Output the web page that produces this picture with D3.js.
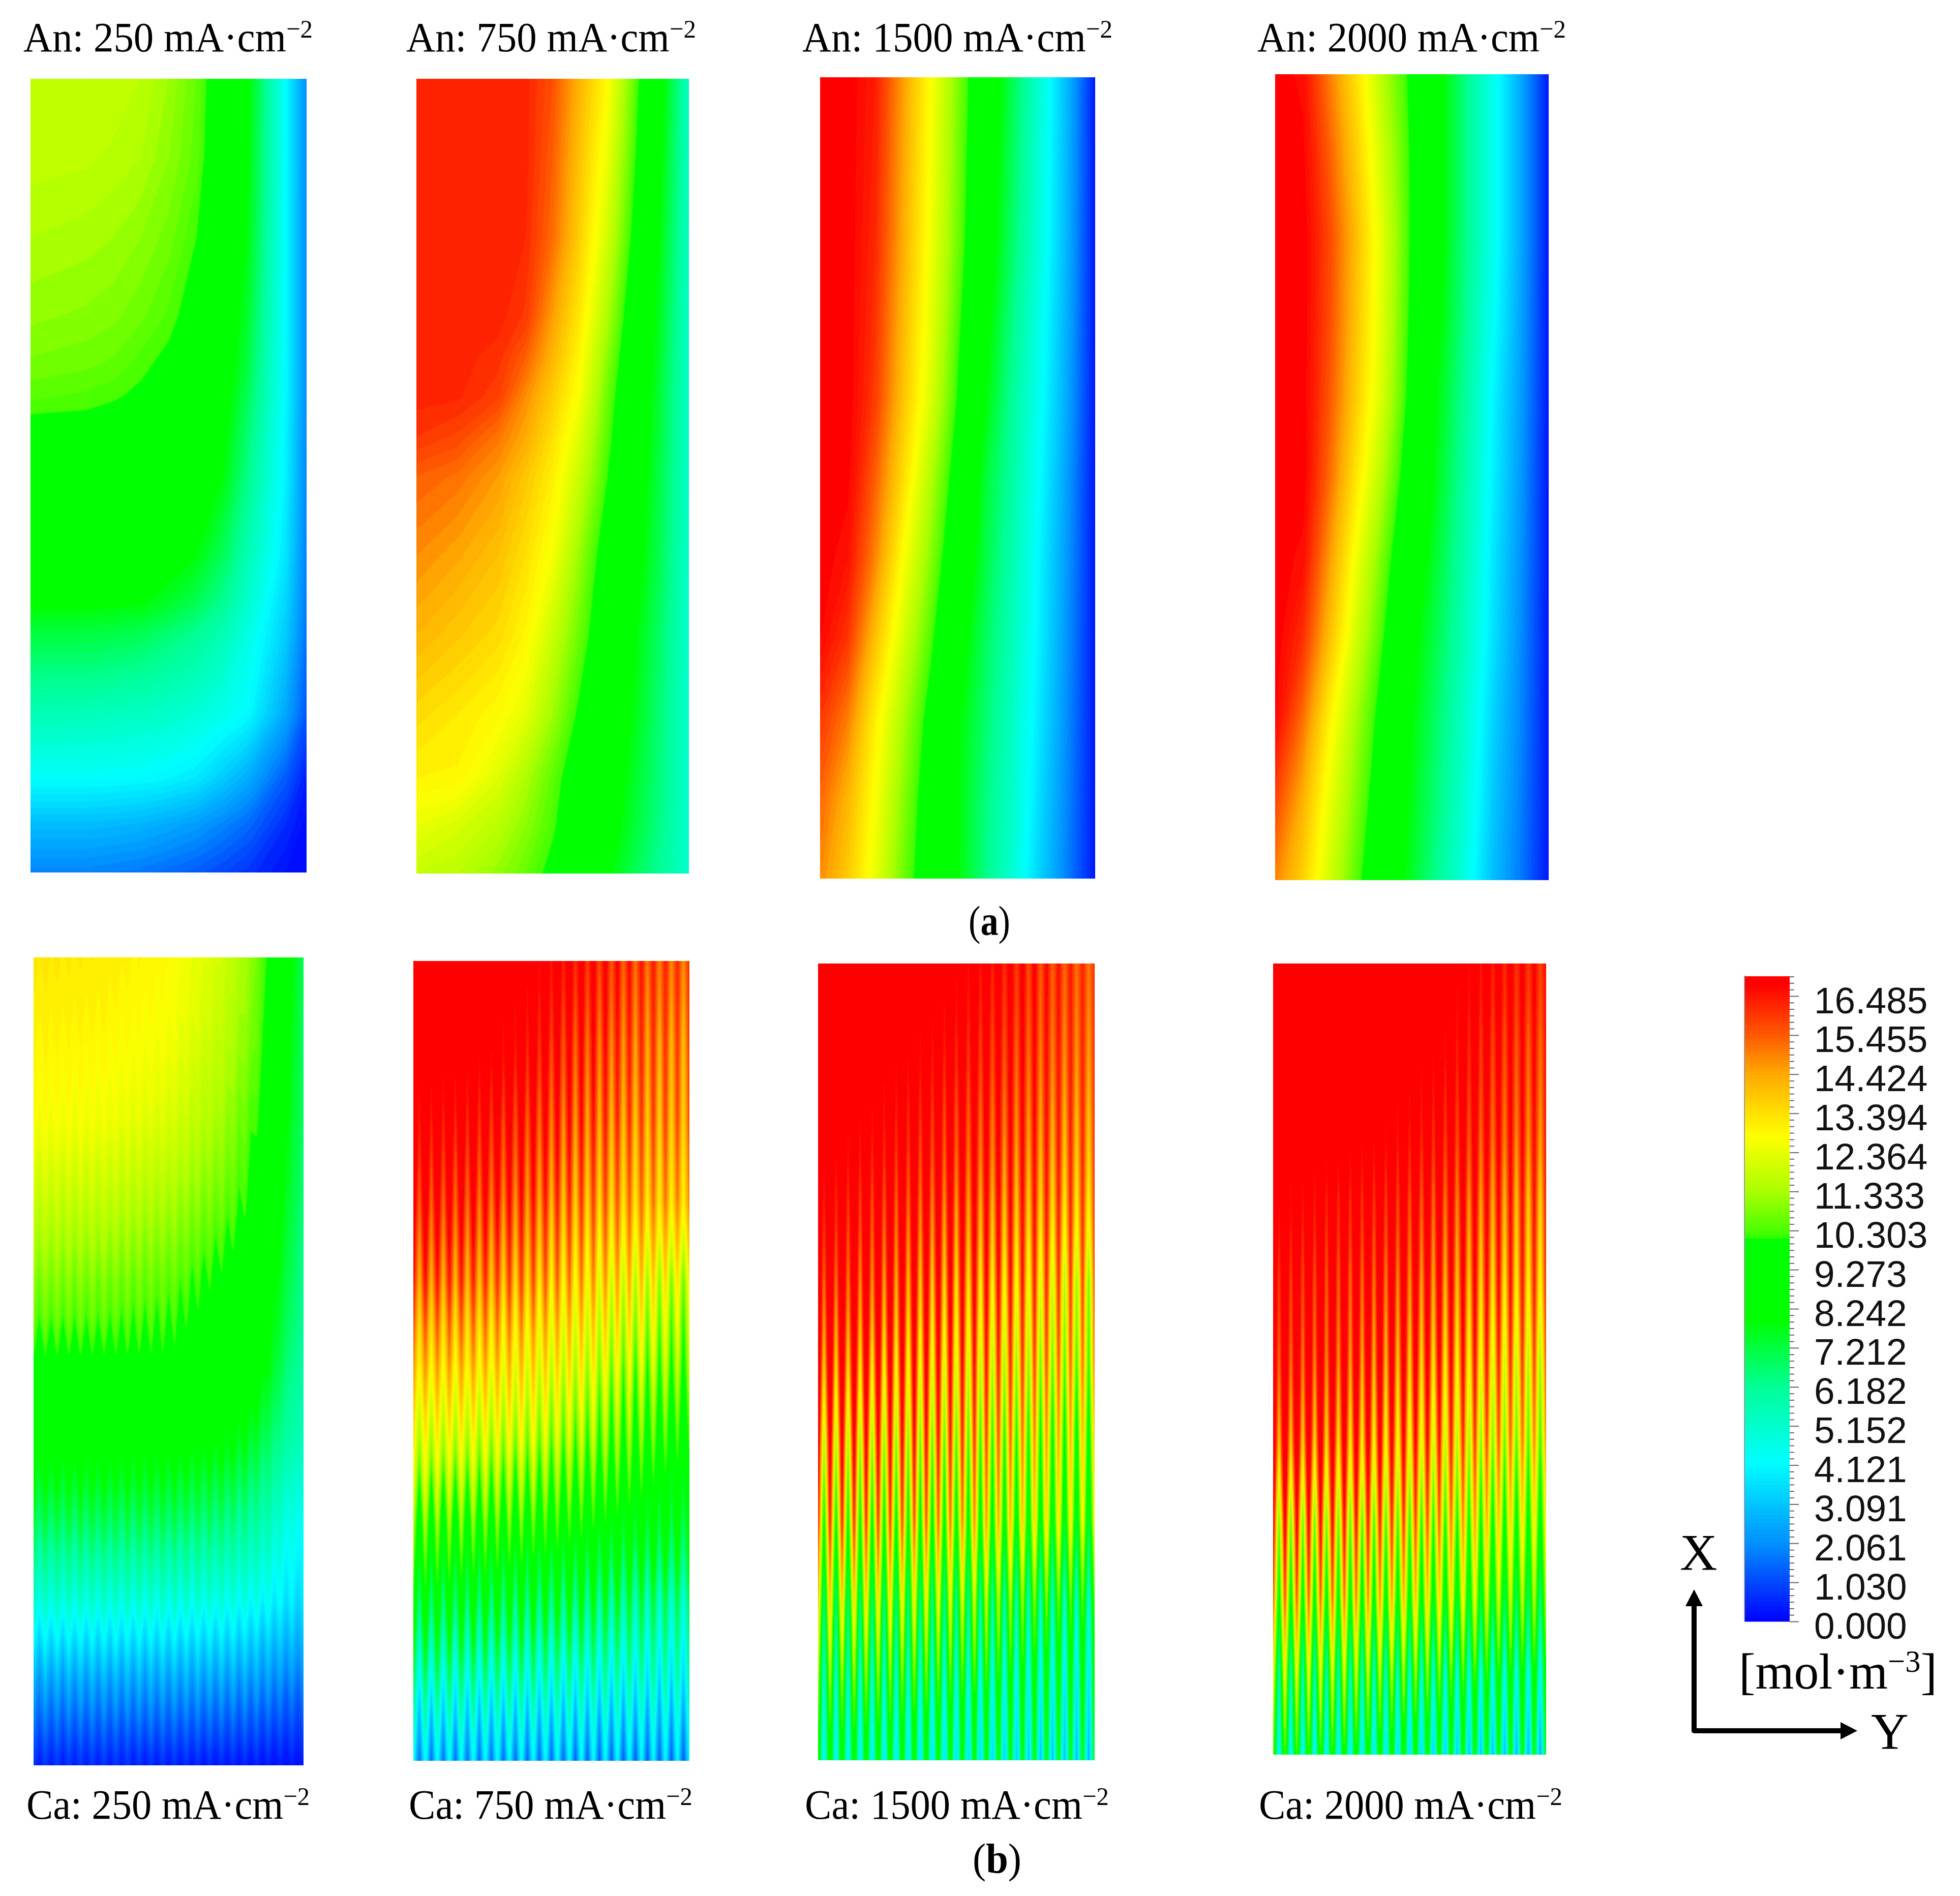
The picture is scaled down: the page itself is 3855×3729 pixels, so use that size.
<!DOCTYPE html>
<html><head><meta charset="utf-8">
<style>html,body{margin:0;padding:0;background:#fff}svg{display:block}</style>
<script src="https://cdn.jsdelivr.net/npm/d3@7/dist/d3.min.js"></script>
</head><body><svg id="c" width="3855" height="3729" xmlns="http://www.w3.org/2000/svg"></svg>
<script>
// ---------- values (mol/m3), rows top to bottom ----------
const tickLabels = ["16.485","15.455","14.424","13.394","12.364","11.333","10.303","9.273","8.242","7.212","6.182","5.152","4.121","3.091","2.061","1.030","0.000"];
const colourValues = [0,2.06,4.2,6.18,7.95,10.1,10.16,11.33,12.78,13.39,14.42,15.45,16.8,17];
const colourStops = ["#0000ff","#0090ff","#00ffff","#00ff96","#00ff00","#00ff00","#3cff00","#aaff00","#ffff00","#ffe100","#ffaa00","#ff5a00","#ff0000","#ff0000"];

const an250Rows = [0,.1,.2,.3,.36,.4,.44,.5,.6,.66,.7,.8,.88,.94,1];
const an250Cols = [0,.2,.3,.4,.5,.6,.7,.79,.925,1];
const an250 = [
[11.8,11.8,11.75,11.6,11.2,10.6,9.5,7.95,4.2,2.0],
[11.7,11.65,11.55,11.4,11.0,10.5,9.4,7.85,4.2,2.0],
[11.4,11.3,11.2,11.0,10.7,10.2,9.1,7.7,4.15,2.0],
[11.05,10.95,10.85,10.65,10.35,9.9,8.7,7.35,4.15,2.0],
[10.75,10.65,10.55,10.3,10.05,9.5,8.5,7.1,4.1,2.0],
[10.45,10.35,10.25,10.1,9.7,9.2,8.3,6.85,4.1,2.0],
[10.0,10.0,9.9,9.75,9.4,8.95,8.1,6.6,4.0,1.95],
[9.3,9.3,9.25,9.15,8.9,8.5,7.8,6.3,3.95,1.9],
[8.6,8.6,8.55,8.5,8.25,7.85,6.9,5.6,3.7,1.8],
[8.0,8.0,7.95,7.9,7.5,7.0,6.2,5.1,3.4,1.7],
[7.2,7.2,7.1,6.95,6.6,6.2,5.6,4.7,3.2,1.6],
[5.6,5.55,5.45,5.35,5.2,4.95,4.55,4.15,2.5,1.2],
[4.3,4.3,4.25,4.2,4.05,3.8,3.2,2.6,1.3,.4],
[2.9,2.9,2.85,2.75,2.55,2.3,1.9,1.5,.6,.1],
[1.9,1.9,1.8,1.7,1.5,1.3,1.0,.7,.2,0]];
const an750Rows = [0,.1,.2,.3,.35,.4,.45,.5,.6,.7,.8,.88,.94,1];
const an750Cols = [0,.15,.3,.4,.5,.6,.7,.8,.9,1];
const an750 = [
[16.3,16.3,16.3,16.3,15.6,14.2,12.85,10.57,8.17,5.3],
[16.3,16.3,16.3,16.3,15.4,13.95,12.45,10.25,7.9,5.3],
[16.3,16.3,16.3,16.2,15.2,13.7,12.0,9.88,7.65,5.3],
[16.3,16.3,16.3,15.95,14.55,13.2,11.4,9.35,7.41,5.25],
[16.3,16.3,16.1,15.4,14.2,12.9,11.0,9.15,7.3,5.2],
[16.3,16.25,15.85,14.8,13.75,12.6,10.67,8.96,7.17,5.2],
[16.0,15.75,15.1,14.4,13.4,12.2,10.45,8.8,7.1,5.2],
[15.4,15.15,14.6,13.9,13.1,11.8,10.2,8.66,7.0,5.2],
[14.8,14.45,14.0,13.4,12.6,11.1,9.6,8.35,6.9,5.15],
[14.2,13.85,13.5,12.95,11.85,10.6,9.3,7.95,6.65,5.1],
[13.5,13.2,12.85,12.3,11.2,10.0,8.85,7.75,6.5,5.1],
[13.0,12.95,12.2,11.4,10.5,9.55,8.55,7.5,6.4,5.1],
[12.4,12.1,11.6,11.0,10.3,9.3,8.35,7.35,6.3,5.1],
[11.8,11.6,11.1,10.6,9.95,9.0,8.0,7.0,6.1,5.1]];
const anWideCols = [0,.1,.2,.3,.4,.5,.6,.7,.8,.9,1];
const an1500Rows = [0,.2,.4,.5,.6,.7,.8,.9,1];
const an1500 = [
[17,17,16.4,14.6,12.78,10.9,9.0,7.0,5.0,2.8,.3],
[17,17,16.2,14.4,12.6,10.7,8.7,6.7,4.8,2.7,.3],
[17,17,15.9,14.0,12.2,10.1,7.95,6.1,4.4,2.5,.3],
[17,16.9,15.4,13.5,11.5,9.6,7.4,5.9,4.2,2.3,.3],
[17,16.6,14.9,12.78,11.0,9.1,7.2,5.7,4.0,2.2,.3],
[16.8,16.0,14.0,12.1,10.4,8.5,6.9,5.5,3.9,2.1,.3],
[16.0,15.0,13.1,11.4,9.8,8.0,6.7,5.3,3.7,2,.3],
[15.3,14.2,12.7,11.0,9.5,7.9,6.5,5.2,3.5,1.9,.3],
[14.8,13.8,12.4,10.7,9.4,7.9,6.4,5.0,3.3,1.8,.3]];
const an2000Rows = [0,.1,.2,.3,.4,.5,.6,.7,.8,.9,1];
const an2000 = [
[17,16.7,15.0,13.3,11.4,9.9,8.2,6.3,4.5,2.5,.3],
[17,16.9,15.4,13.7,11.8,10,8.2,6.3,4.5,2.5,.3],
[17,17,15.7,14,12.1,10.0,8.2,6.3,4.5,2.5,.3],
[17,17,15.65,13.9,12.05,9.9,8.0,6.2,4.3,2.4,.3],
[17,17,15.5,13.7,11.9,9.7,7.7,6.0,4.0,2.3,.3],
[17,17,15.2,13.2,11.3,9.3,7.5,5.8,3.9,2.2,.3],
[17,16.7,14.6,12.5,10.6,8.8,7.2,5.6,3.7,2.1,.3],
[17,16.1,14.0,11.9,10.1,8.2,6.9,5.4,3.6,2,.3],
[16.8,15.2,13.0,11.2,9.6,7.9,6.6,5.1,3.3,1.9,.3],
[15.8,14.3,12.4,10.8,9.3,7.7,6.4,4.9,3.1,1.8,.3],
[14.9,13.7,12.0,10.4,8.9,7.5,6.1,4.6,2.9,1.7,.3]];

const caChannelPeriods = 23;
const ca250Cols = [0,.25,.5,.7,.8,.87,.95,1];
const ca250Rows = [0,.1,.2,.3,.4,.45,.5,.6,.7,.8,.9,1];
const ca250Peak = [
[13.3,13.2,12.9,12.0,11.2,10.1,8.1,7],
[13.1,13,12.7,11.8,11,10.0,7.9,6.9],
[12.9,12.7,12.3,11.4,10.6,9.8,7.7,6.8],
[12.1,12,11.6,10.9,10.2,9.2,7.4,6.6],
[11.2,11.1,10.8,10.1,9.7,8.6,7.0,6.3],
[10.8,10.7,10.5,9.8,9.4,8.3,6.8,6.2],
[10.1,10.1,10.1,9.5,9.0,8.0,6.5,6.0],
[8.8,8.8,8.7,8.4,8.0,7.0,5.9,5.5],
[7.4,7.4,7.3,7.0,6.5,5.9,4.8,4.5],
[5.4,5.4,5.3,5.1,4.9,4.6,4.1,3.8],
[2.9,2.9,2.9,2.8,2.7,2.5,2.2,2.1],
[.8,.8,.7,.6,.6,.5,.4,.4]];
const ca250Valley = [
[13.2,13.1,12.8,11.9,11.1,10.0,8.0,7.0],
[12.9,12.8,12.5,11.6,10.8,9.9,7.8,6.9],
[12.5,12.4,12.0,11.1,10.3,9.6,7.6,6.8],
[11.6,11.5,11.1,10.4,9.9,9.0,7.3,6.6],
[10.6,10.5,10.3,9.7,9.4,8.4,6.9,6.3],
[10.1,10.1,9.9,9.4,9.0,8.1,6.7,6.2],
[9.5,9.5,9.4,9.0,8.6,7.8,6.4,6.0],
[8.1,8.1,8.0,7.7,7.2,6.6,5.7,5.5],
[6.4,6.4,6.3,6.0,5.6,5.2,4.3,4.3],
[4.3,4.3,4.2,4.1,3.9,3.6,3.3,3.2],
[1.9,1.9,1.9,1.8,1.7,1.6,1.4,1.4],
[.3,.3,.25,.2,.15,.1,.1,.1]];
const caCols = [0,.2,.4,.6,.8,1];
const caRows = [0,.1,.2,.3,.4,.5,.6,.7,.8,.9,1];
const ca750Peak = [
[18.5,18.5,18,17.4,16.7,16.2],[18.5,18.5,18,17.3,16.5,16],[18.5,18.3,17.7,17,16.2,15.8],[18,17.6,17,16.3,15.5,15],
[16.8,16.5,16,15.3,14.5,13.2],[15,14.9,14.5,13.8,13,11.9],[13.3,13.2,13,12.4,11.5,10.4],[11.8,11.5,11.2,10.6,9.8,8.6],
[9.9,9.6,9.2,8.8,8,7.2],[7.2,7,6.8,6.5,6.2,6],[4.5,4.4,4.3,4.3,4.2,4.2]];
const ca750Valley = [
[17,17,16.8,15.9,15,14.6],[17,16.9,16.2,15,14.3,13.8],[16.2,15.9,15.2,14.2,13.6,13.3],[15.2,14.9,14.3,13.3,12.9,12.8],
[14,13.8,13.1,12.2,11,10.3],[12.7,12.5,11.8,11,9.8,9.3],[11,10.8,10.3,9.7,8.6,7.95],[8.3,8.1,8,7.8,7.2,6.7],
[6.2,6,5.8,5.5,5,4.5],[3.7,3.6,3.5,3.3,3.1,2.9],[1.3,1.3,1.2,1.1,1,1]];
const ca1500Peak = [
[19,19,18.5,17.6,16.9,16.2],[19,19,18.5,17.6,16.9,16.2],[19,19,18.5,17.6,16.9,16.2],[19,19,18.5,17.6,16.8,16.1],
[19,19,18.3,17.5,16.6,15.9],[19,18.6,18,17,16,15.2],[18.2,17.8,17.2,16.2,15,14],[16.8,16.4,15.8,14.9,13.8,12.8],
[14.2,13.8,13.2,12.3,11.2,10.5],[11.5,11.3,10.9,10.4,9.6,9.2],[9.5,9.3,9,8.6,8.2,7.9]];
const ca1500Valley = [
[17,17,17,16.3,15.4,14.9],[17,16.9,16.4,15.7,14.9,14.4],[17,16.3,15.6,14.9,14.2,13.6],[16.2,15.3,14.6,13.9,13.2,12.6],
[15,14.2,13.3,12.5,11.7,10],[13.4,12.6,11.7,10.9,10.2,9.4],[10.9,10.3,9.8,9.2,8.6,7.95],[8.3,8.1,7.9,7.6,7.2,6.8],
[6.0,5.9,5.6,5.2,4.7,4.3],[4.2,4.2,4.0,3.7,3.4,3.0],[3.6,3.4,3.2,2.9,2.5,2.2]];
const ca2000Peak = [
[19,19,19,18.5,17.5,16.7],[19,19,19,18.5,17.5,16.7],[19,19,19,18.5,17.4,16.7],[19,19,19,18.4,17.3,16.6],
[19,19,19,18.2,17.2,16.4],[19,19,18.7,17.8,16.8,15.8],[19,18.6,18,17.1,15.9,14.9],[18,17.5,16.8,15.8,14.4,13.2],
[16,15.7,14.9,13.9,12.6,11.8],[13,12.7,12,11.2,10.2,9.8],[10.5,10.2,9.6,9,8.6,8.2]];
const ca2000Valley = [
[17,17,17,17,16.2,15.7],[17,17,17,16.6,15.6,15],[17,17,16.6,15.9,15,14.4],[16.6,16,15.6,14.9,14,13.3],
[15.7,15.1,14.6,13.9,12.9,12.4],[15,14.4,13.6,12.8,11.6,10.6],[13.6,13,12.3,11.3,10.2,9.6],[10.1,10,9.6,9.2,8.6,8],
[7.9,7.7,7.5,7.2,6.7,6.0],[5,4.8,4.5,4.1,3.9,3.6],[3.6,3.4,3.1,2.7,2.3,2]];

// ---------- layout ----------
const legendTop = 1919, legendBottom = 3189, legendLeft = 3431, legendRight = 3520;
const serif = "'Liberation Serif','Times New Roman',serif", sans = "'Liberation Sans',Arial,sans-serif";

const panels = [
 {box:[60,155,603,1716],  title:["An: 250 mA·cm","−2"],  t:[46,615,101],   ...field(an250, an250Rows, an250Cols)},
 {box:[819,155,1355,1718],title:["An: 750 mA·cm","−2"],  t:[799,1369,101], ...field(an750, an750Rows, an750Cols)},
 {box:[1613,152,2154,1728],title:["An: 1500 mA·cm","−2"],t:[1578,2188,101],...field(an1500, an1500Rows, anWideCols)},
 {box:[2508,146,3046,1731],title:["An: 2000 mA·cm","−2"],t:[2473,3080,101],...field(an2000, an2000Rows, anWideCols)},
 {box:[66,1883,597,3472], title:["Ca: 250 mA·cm","−2"],  t:[52,609,3577],  ...teeth(ca250Peak, ca250Valley, ca250Rows, ca250Cols)},
 {box:[813,1890,1356,3463],title:["Ca: 750 mA·cm","−2"], t:[804,1362,3577],...teeth(ca750Peak, ca750Valley, caRows, caCols)},
 {box:[1609,1895,2153,3462],title:["Ca: 1500 mA·cm","−2"],t:[1583,2181,3577],...teeth(ca1500Peak, ca1500Valley, caRows, caCols)},
 {box:[2504,1895,3041,3451],title:["Ca: 2000 mA·cm","−2"],t:[2476,3073,3577],...teeth(ca2000Peak, ca2000Valley, caRows, caCols)}
];

// a table as read, used directly as a contour grid
function field(values, rows, cols){ return {values:values.flat(), rows, cols, nx:cols.length, ny:rows.length}; }
// cathode table: alternating rib/channel columns looked up in the read tables
function teeth(peak, valley, rows, cols){
  const n = caChannelPeriods*2 + 1, out = [];
  const gridCols = d3.range(n).map(j => j/(n-1));
  rows.forEach((_, r) => {
    const p = d3.scaleLinear().domain(cols).range(peak[r]);
    const v = d3.scaleLinear().domain(cols).range(valley[r]);
    gridCols.forEach((f, j) => out.push(j % 2 === 0 ? p(f) : v(f)));
  });
  return {values:out, rows, cols:gridCols, nx:n, ny:rows.length};
}

// ---------- drawing ----------
const svg = d3.select("#c");
const defs = svg.append("defs");
defs.append("filter").attr("id","soft").attr("x","-5%").attr("y","-5%").attr("width","110%").attr("height","110%")
    .attr("filterUnits","objectBoundingBox").append("feGaussianBlur").attr("stdDeviation",1.2);
const colour = d3.scaleLinear().domain(colourValues).range(colourStops).clamp(true);
const step = 0.2;
const levels = d3.range(-1, 17, step);

panels.forEach((p, i) => {
  const [x0,y0,x1,y1] = p.box;
  const xs = d3.scaleLinear().domain(p.cols.map((_,k)=>k+.5)).range(p.cols.map(f=>x0+f*(x1-x0)));
  const ys = d3.scaleLinear().domain(p.rows.map((_,k)=>k+.5)).range(p.rows.map(f=>y0+f*(y1-y0)));
  const path = d3.geoPath(d3.geoTransform({point(x,y){this.stream.point(xs(x),ys(y));}}));
  const contours = d3.contours().size([p.nx,p.ny]).thresholds(levels)(p.values);
  defs.append("clipPath").attr("id","clip"+i).append("rect").attr("x",x0).attr("y",y0).attr("width",x1-x0).attr("height",y1-y0);
  svg.append("g").attr("clip-path",`url(#clip${i})`).append("g").attr("filter","url(#soft)")
    .selectAll("path").data(contours).join("path")
    .attr("d",path).attr("fill",d=>colour(d.value+step/2)).attr("stroke",d=>colour(d.value+step/2)).attr("stroke-width",.5);
  const [a,b,base] = p.t;
  fit(serifText(p.title[0], p.title[1], 83), a, b, base);
});

function serifText(main, sup, size){
  const t = svg.append("text").attr("font-family",serif).attr("font-size",size).attr("fill","#000");
  t.append("tspan").text(main);
  if (sup) t.append("tspan").attr("dy",-size*.33).attr("font-size",size*.62).text(sup);
  return t;
}
function fit(t, a, b, base){
  const w = t.node().getComputedTextLength();
  t.attr("transform",`translate(${a},${base}) scale(${(b-a)/w},1)`);
  return t;
}

// sub-figure letters
[["a",1905,1987,1839],["b",1913,2009,3683]].forEach(([l,a,b,base])=>{
  const t = svg.append("text").attr("font-family",serif).attr("font-size",83).attr("fill","#000");
  t.append("tspan").text("(");
  t.append("tspan").attr("font-weight","bold").text(l);
  t.append("tspan").text(")");
  fit(t,a,b,base);
});

// legend
const labelValues = tickLabels.map(Number);
const legendY = d3.scaleLinear().domain([0,16.485]).range([legendBottom,1959]);
const legendBands = d3.range(0,17,0.1);
svg.append("g").selectAll("rect").data(legendBands).join("rect")
  .attr("x",legendLeft).attr("width",legendRight-legendLeft)
  .attr("y",d=>Math.min(legendY(d+.1),legendY(d))-.5)
  .attr("height",d=>Math.abs(legendY(d)-legendY(d+.1))+1)
  .attr("fill",d=>colour(d+.05));
svg.append("rect").attr("x",legendLeft-1).attr("y",legendTop).attr("width",2).attr("height",legendBottom-legendTop).attr("fill","#9a9a9a");
const minor = d3.range(0,96+1).map(k=>k*16.485/96).filter(v=>!labelValues.some(m=>Math.abs(m-v)<.02));
minor.push(16.485+16.485/96, 16.485+2*16.485/96, 16.485+3*16.485/96);
const minorAxis = d3.axisRight(legendY).tickValues(minor).tickSize(9).tickFormat("");
const majorAxis = d3.axisRight(legendY).tickValues(labelValues).tickSize(18).tickPadding(30)
  .tickFormat((d,i)=>tickLabels[i]);
[minorAxis,majorAxis].forEach(ax=>{
  const g = svg.append("g").attr("transform",`translate(${legendRight},0)`).call(ax);
  g.select(".domain").remove();
  g.selectAll("line").attr("stroke","#666").attr("stroke-width",2);
  g.selectAll("text").attr("font-family",sans).attr("font-size",73).attr("fill","#111").attr("dy",33);
});

// unit
fit(serifText("[mol·m","−3",100).call(t=>t.append("tspan").attr("dy",100*.33).text("]")),3420,3810,3321);

// axis arrows
const arrowX = 3332, arrowY = 3404, arrowTop = 3126, arrowRight = 3653;
svg.append("path").attr("d",`M${arrowX},${arrowTop+25}V${arrowY}H${arrowRight-25}`)
  .attr("fill","none").attr("stroke","#000").attr("stroke-width",10).attr("stroke-linejoin","round");
svg.append("path").attr("d",`M${arrowX},${arrowTop}l17,33h-34z`).attr("fill","#000");
svg.append("path").attr("d",`M${arrowRight},${arrowY}l-33,-17v34z`).attr("fill","#000");
svg.append("text").attr("x",3304).attr("y",3088).attr("font-family",serif).attr("font-size",102).text("X");
svg.append("text").attr("x",3680).attr("y",3440).attr("font-family",serif).attr("font-size",102).text("Y");
</script></body></html>
